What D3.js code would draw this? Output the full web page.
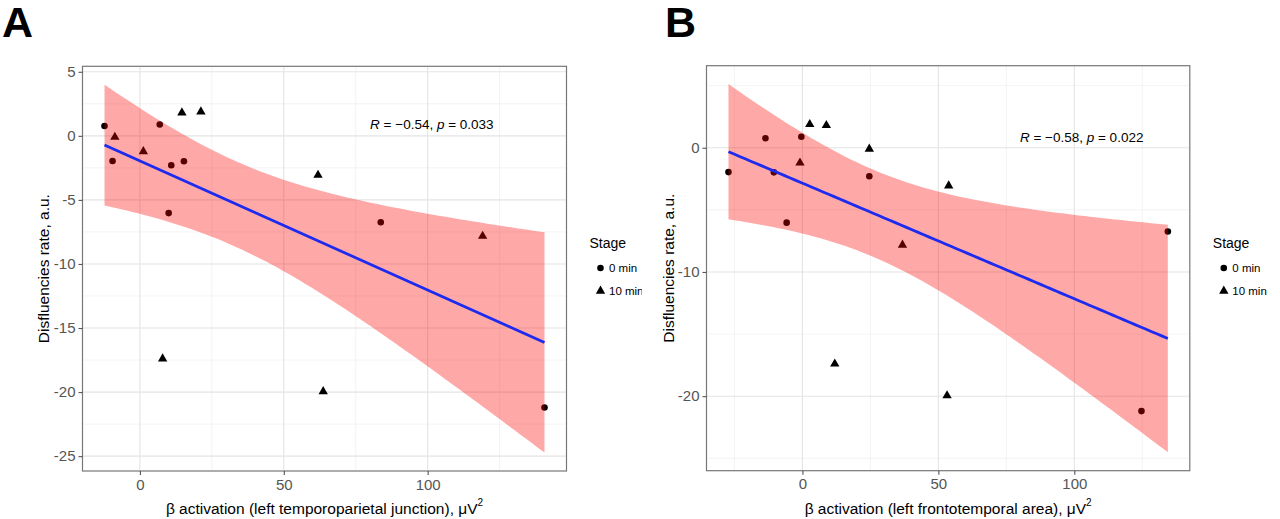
<!DOCTYPE html>
<html><head><meta charset="utf-8">
<script src="https://cdn.jsdelivr.net/npm/d3@7/dist/d3.min.js"></script>
<style>
body{margin:0;background:#fff;}
text{font-family:"Liberation Sans",Arial,Helvetica,sans-serif;}
</style>
</head><body>
<svg id="chart" width="1280" height="519"></svg>
<script>
// ---- data (one entry per subject) ----
const stage      = ["10 min","10 min","10 min","10 min","10 min","10 min","10 min","10 min",
                    "0 min","0 min","0 min","0 min","0 min","0 min","0 min","0 min"];
const disfluency = [-0.1, -1.22, 1.8, 1.88, -3.06, -7.83, -17.4, -19.95,
                    0.77, 0.88, -1.96, -1.98, -2.29, -6.03, -6.74, -21.2];
const betaTPJ    = [-8.7, 1.2, 14.6, 21.2, 61.9, 119.1, 7.9, 63.7,
                    -12.3, 6.9, -9.5, 15.3, 10.9, 10.0, 83.7, 140.6];
const betaFT     = [24.6, -0.9, 8.8, 2.7, 53.8, 36.8, 11.9, 53.2,
                    -13.6, -0.4, -27.2, -10.5, 24.6, -5.8, 134.4, 124.7];
const stageLevels = ["0 min","10 min"];
const xTicksA = [0,50,100];
const yTicksA = [5,0,-5,-10,-15,-20,-25];
const xTicksB = [0,50,100];
const yTicksB = [0,-10,-20];
const corrR = ["−0.54","−0.58"];
const corrP = ["0.033","0.022"];
const corrPos = [[80,0.9],[80,0.9]];
const xTitles = ["β activation (left temporoparietal junction), μV","β activation (left frontotemporal area), μV"];
const yTitle = "Disfluencies rate, a.u.";
const panelLabels = ["A","B"];

const svg = d3.select("#chart");

function fitLM(xs, ys){
  const n = xs.length;
  const mx = d3.mean(xs), my = d3.mean(ys);
  let sxx=0, sxy=0;
  for(let i=0;i<n;i++){ sxx+=(xs[i]-mx)**2; sxy+=(xs[i]-mx)*(ys[i]-my); }
  const b = sxy/sxx, a = my - b*mx;
  let sse=0; for(let i=0;i<n;i++){ sse += (ys[i]-a-b*xs[i])**2; }
  const s = Math.sqrt(sse/(n-2));
  const tq = 2.144787; // t(0.975, df=14)
  const [x0,x1] = d3.extent(xs);
  return d3.range(80).map(i=>{
    const x = x0 + (x1-x0)*i/79;
    const f = a + b*x;
    const se = s*Math.sqrt(1/n + (x-mx)**2/sxx);
    return {x, f, lo:f-tq*se, hi:f+tq*se};
  });
}

function expand(ext){ const r = ext[1]-ext[0]; return [ext[0]-0.05*r, ext[1]+0.05*r]; }
function minorBreaks(major, dom){
  const all = major.slice().sort((a,b)=>a-b);
  const step = Math.abs(all[1]-all[0]);
  const arr = [];
  for(let v=all[0]-step; v<=all[all.length-1]+step+1e-9; v+=step){ arr.push(v+step/2); }
  return arr.filter(v=>v>=dom[0] && v<=dom[1]);
}

function panel(idx, xs, box, xTicks, yTicks, clipW){
  const g = svg.append("g");
  if(clipW){
    const id = "clip"+idx;
    svg.append("defs").append("clipPath").attr("id",id).append("rect")
      .attr("x",box.ox).attr("y",0).attr("width",clipW).attr("height",519);
    g.attr("clip-path",`url(#${id})`);
  }
  const fit = fitLM(xs, disfluency);
  const xDom = expand(d3.extent(xs));
  const yAll = disfluency.concat(fit.map(d=>d.lo), fit.map(d=>d.hi));
  const yDom = expand(d3.extent(yAll));
  const x = d3.scaleLinear().domain(xDom).range([box.l, box.r]);
  const y = d3.scaleLinear().domain(yDom).range([box.b, box.t]);

  g.append("rect").attr("x",box.l).attr("y",box.t).attr("width",box.r-box.l).attr("height",box.b-box.t).attr("fill","#fff");
  const xMinor = minorBreaks(xTicks, xDom), yMinor = minorBreaks(yTicks, yDom);
  g.selectAll(null).data(xMinor).enter().append("line")
    .attr("x1",d=>x(d)).attr("x2",d=>x(d)).attr("y1",box.t).attr("y2",box.b)
    .attr("stroke","#eeeeee").attr("stroke-width",0.7);
  g.selectAll(null).data(yMinor).enter().append("line")
    .attr("y1",d=>y(d)).attr("y2",d=>y(d)).attr("x1",box.l).attr("x2",box.r)
    .attr("stroke","#eeeeee").attr("stroke-width",0.7);
  g.selectAll(null).data(xTicks).enter().append("line")
    .attr("x1",d=>x(d)).attr("x2",d=>x(d)).attr("y1",box.t).attr("y2",box.b)
    .attr("stroke","#e4e4e4").attr("stroke-width",1.1);
  g.selectAll(null).data(yTicks).enter().append("line")
    .attr("y1",d=>y(d)).attr("y2",d=>y(d)).attr("x1",box.l).attr("x2",box.r)
    .attr("stroke","#e4e4e4").attr("stroke-width",1.1);

  // points (drawn beneath the confidence ribbon, as in the original)
  const sym = d3.symbol().type((d)=> stage[d]==="0 min" ? d3.symbolCircle : d3.symbolTriangle)
                .size(d=> stage[d]==="0 min" ? 34 : 38);
  g.selectAll(null).data(d3.range(xs.length)).enter().append("path")
    .attr("d",sym).attr("transform",i=>`translate(${x(xs[i])},${y(disfluency[i])})`)
    .attr("fill","#000");

  const area = d3.area().x(d=>x(d.x)).y0(d=>y(d.lo)).y1(d=>y(d.hi));
  g.append("path").datum(fit).attr("d",area).attr("fill","#ff0000").attr("fill-opacity",0.34);
  const line = d3.line().x(d=>x(d.x)).y(d=>y(d.f));
  g.append("path").datum(fit).attr("d",line).attr("fill","none").attr("stroke","#1c2bef").attr("stroke-width",2.8);

  g.append("rect").attr("x",box.l).attr("y",box.t).attr("width",box.r-box.l).attr("height",box.b-box.t)
    .attr("fill","none").attr("stroke","#777").attr("stroke-width",1.2);

  const xa = g.append("g").attr("transform",`translate(0,${box.b})`)
    .call(d3.axisBottom(x).tickValues(xTicks).tickSize(4).tickPadding(4).tickFormat(d3.format("d")));
  const ya = g.append("g").attr("transform",`translate(${box.l},0)`)
    .call(d3.axisLeft(y).tickValues(yTicks).tickSize(4).tickPadding(3).tickFormat(d=>String(d)));
  [xa,ya].forEach(a=>{
    a.select(".domain").remove();
    a.selectAll(".tick line").attr("stroke","#555").attr("stroke-width",1.1);
    a.selectAll(".tick text").attr("fill","#555").attr("font-size",15)
      .attr("font-family","'Liberation Sans',Arial,sans-serif");
  });

  const ann = g.append("text").attr("x",x(corrPos[idx][0])).attr("y",y(corrPos[idx][1]))
    .attr("dominant-baseline","central").attr("font-size",13.5).attr("fill","#000");
  ann.append("tspan").attr("font-style","italic").text("R");
  ann.append("tspan").text(" = " + corrR[idx] + ", ");
  ann.append("tspan").attr("font-style","italic").text("p");
  ann.append("tspan").text(" = " + corrP[idx]);

  const xt = g.append("text").attr("x",(box.l+box.r)/2).attr("y",508).attr("text-anchor","middle")
    .attr("dominant-baseline","central").attr("font-size",15.5).attr("fill","#000");
  xt.append("tspan").text(xTitles[idx]);
  xt.append("tspan").attr("font-size",10).attr("dy",-6).text("2");
  g.append("text").attr("transform",`translate(${box.ytx},${(box.t+box.b)/2}) rotate(-90)`)
    .attr("text-anchor","middle").attr("dominant-baseline","central").attr("font-size",15.5).attr("fill","#000")
    .text(yTitle);

  g.append("text").attr("x",box.ox).attr("y",37).attr("font-size",43).attr("font-weight","bold")
    .attr("fill","#000").text(panelLabels[idx]);

  const lx = box.r + 23;
  const lg = g.append("g");
  lg.append("text").attr("x",lx).attr("y",243).attr("dominant-baseline","central")
    .attr("font-size",14).attr("fill","#000").text("Stage");
  const lsym = d3.symbol().type(d=> d==="0 min" ? d3.symbolCircle : d3.symbolTriangle).size(d=> d==="0 min"?34:38);
  const items = lg.selectAll(null).data(stageLevels).enter().append("g")
    .attr("transform",(d,i)=>`translate(${lx+11},${268+i*23})`);
  items.append("path").attr("d",lsym).attr("fill","#000");
  items.append("text").attr("x",8.5).attr("dominant-baseline","central").attr("font-size",11.5)
    .attr("fill","#000").text(d=>d);
}

panel(0, betaTPJ, {ox:2, l:82.5, r:566.5, t:66.3, b:471, ytx:43}, xTicksA, yTicksA, 640);
panel(1, betaFT, {ox:665, l:706.5, r:1189.8, t:65.7, b:470.7, ytx:668}, xTicksB, yTicksB, null);
</script>
</body></html>
